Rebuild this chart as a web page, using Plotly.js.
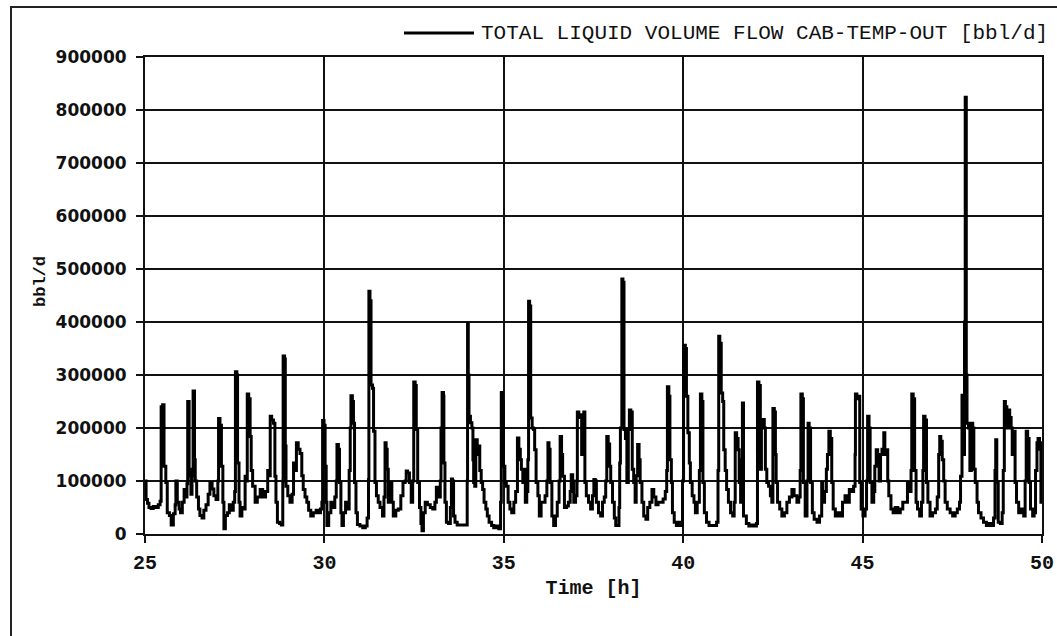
<!DOCTYPE html>
<html>
<head>
<meta charset="utf-8">
<script src="https://cdn.plot.ly/plotly-3.0.1.min.js"></script>
<style>
html,body{margin:0;padding:0;background:#fff;}
#chart{width:1057px;height:636px;}
</style>
</head>
<body>
<div id="chart"></div>
<script>
// Time [h]
const timeH = [
25.00,25.03,25.07,25.11,25.17,25.23,25.30,25.37,25.42,25.45,25.49,25.53,25.58,25.62,25.68,25.73,25.79,25.84,25.86,25.90,
25.95,25.99,26.04,26.09,26.13,26.17,26.19,26.23,26.25,26.28,26.31,26.34,26.38,26.40,26.44,26.49,26.53,26.59,26.64,26.70,
26.76,26.81,26.87,26.92,26.98,27.03,27.05,27.09,27.13,27.17,27.20,27.24,27.30,27.35,27.41,27.46,27.50,27.52,27.56,27.58,
27.62,27.65,27.70,27.74,27.79,27.84,27.85,27.89,27.93,27.96,28.00,28.07,28.13,28.21,28.28,28.36,28.42,28.47,28.49,28.53,
28.58,28.62,28.65,28.69,28.75,28.80,28.84,28.85,28.89,28.91,28.93,28.98,29.04,29.10,29.14,29.18,29.22,29.27,29.32,29.37,
29.41,29.46,29.51,29.56,29.62,29.69,29.77,29.83,29.89,29.93,29.95,29.99,30.02,30.05,30.07,30.12,30.18,30.23,30.29,30.33,
30.35,30.39,30.42,30.46,30.49,30.53,30.59,30.64,30.69,30.72,30.74,30.78,30.81,30.84,30.88,30.92,30.99,31.07,31.14,31.19,
31.23,31.24,31.27,31.30,31.34,31.37,31.41,31.45,31.50,31.55,31.62,31.66,31.69,31.72,31.75,31.78,31.83,31.88,31.92,31.99,
32.06,32.13,32.19,32.25,32.28,32.32,32.37,32.42,32.46,32.49,32.53,32.56,32.60,32.65,32.69,32.72,32.76,32.81,32.87,32.95,
33.02,33.08,33.12,33.18,33.23,33.25,33.28,33.32,
33.33,33.36,33.40,33.46,33.51,33.54,33.57,33.60,33.64,33.70,33.77,33.87,33.96,33.98,33.99,34.01,34.03,34.07,34.11,34.14,
34.16,34.19,34.22,34.26,34.29,34.33,34.37,34.41,34.45,34.50,34.54,34.59,34.66,34.72,34.80,34.86,34.91,34.93,34.96,34.99,
35.03,35.07,35.12,35.17,35.22,35.28,35.33,35.38,35.42,35.46,35.49,35.53,35.57,35.60,35.64,35.67,35.69,35.72,35.75,35.79,
35.83,35.86,35.90,35.95,35.99,36.04,36.10,36.15,36.20,36.23,36.26,36.29,36.34,36.39,36.44,36.49,36.54,36.57,36.61,36.64,
36.69,36.75,36.80,36.85,36.88,36.92,36.95,37.00,37.04,37.05,37.09,37.13,37.17,37.20,37.23,37.26,37.30,37.36,37.42,37.47,
37.51,37.55,37.58,37.64,37.70,37.75,37.80,37.84,37.87,37.91,37.95,37.98,38.03,38.08,38.12,38.17,38.21,38.23,38.25,38.29,
38.32,38.35,38.39,38.43,38.47,38.50,38.54,38.58,38.62,38.66,38.69,38.73,38.77,38.80,38.85,38.90,38.96,39.01,39.07,39.13,
39.18,39.24,39.30,39.37,39.44,39.50,39.54,39.56,39.60,39.63,39.67,39.70,39.75,39.81,39.89,39.94,39.98,40.01,40.06,40.09,
40.13,40.17,40.20,40.25,40.30,40.34,40.39,40.45,40.48,40.52,40.55,40.59,40.65,40.72,40.80,40.87,40.93,40.97,40.99,41.02,
41.06,41.10,41.13,41.17,41.21,41.26,41.32,41.38,41.42,41.45,41.49,41.53,41.56,41.60,41.63,41.65,41.68,
41.76,41.83,41.90,41.98,42.04,42.07,42.11,42.15,42.18,42.22,42.26,42.29,42.33,42.38,42.43,42.47,42.50,42.54,42.57,42.59,
42.63,42.69,42.75,42.82,42.89,42.96,43.03,43.09,43.17,43.22,43.26,43.28,43.32,43.35,43.40,43.45,43.48,43.51,43.55,43.60,
43.65,43.73,43.80,43.86,43.89,43.94,43.99,44.02,44.06,44.10,44.14,44.18,44.24,44.30,44.38,44.44,44.51,44.56,44.63,44.69,
44.75,44.79,44.80,44.84,44.88,44.92,44.96,45.01,45.07,45.11,45.14,45.18,45.21,45.26,45.31,45.34,45.38,45.42,45.46,45.50,
45.54,45.59,45.62,45.66,45.70,45.73,45.79,45.85,45.91,45.98,46.05,46.12,46.19,46.25,46.30,46.35,46.37,46.41,46.45,46.49,
46.53,46.59,46.64,46.68,46.70,46.74,46.78,46.82,46.88,46.95,47.03,47.08,47.12,47.15,47.18,47.22,47.26,47.30,47.36,47.44,
47.51,47.58,47.64,47.70,47.73,47.77,47.81,47.84,47.86,47.89,47.91,47.95,47.99,48.03,48.07,48.10,48.14,48.19,48.23,48.30,
48.37,48.45,48.52,48.60,48.65,48.69,48.71,48.74,48.78,48.84,48.89,48.92,48.95,48.98,49.02,49.06,49.10,49.14,49.17,49.21,
49.25,49.29,49.35,49.41,49.49,49.53,49.56,49.60,49.64,49.68,49.74,49.78,49.82,49.86,49.89,49.93,49.97,50.00
];
// Total liquid volume flow [bbl/d]
const flowBbl = [
100000,65000,58000,50000,48000,52000,50000,55000,62000,240000,244000,128000,97000,40000,35000,17000,38000,55000,100000,60000,
47000,40000,60000,84000,70000,95000,250000,110000,122000,75000,110000,270000,140000,100000,70000,47000,35000,30000,45000,55000,
75000,97000,85000,72000,65000,100000,218000,205000,128000,60000,10000,35000,40000,55000,45000,60000,80000,306000,300000,134000,
60000,34000,50000,47000,109000,100000,264000,255000,184000,120000,90000,60000,70000,84000,70000,80000,120000,110000,222000,215000,
209000,109000,60000,22000,20000,17000,100000,336000,330000,166000,90000,72000,60000,75000,134000,120000,172000,160000,152000,110000,
84000,70000,60000,45000,34000,40000,45000,40000,47000,60000,214000,205000,128000,60000,16000,40000,60000,50000,70000,100000,
169000,160000,97000,40000,16000,40000,60000,47000,120000,200000,261000,250000,209000,97000,40000,18000,15000,12000,15000,30000,
103000,458000,440000,281000,275000,194000,97000,72000,60000,50000,34000,70000,172000,160000,122000,60000,97000,60000,34000,45000,
47000,72000,97000,100000,119000,115000,97000,60000,100000,287000,280000,197000,97000,50000,20000,6000,40000,60000,55000,50000,
47000,60000,88000,70000,100000,200000,267000,260000,
134000,60000,22000,20000,50000,104000,100000,34000,22000,17000,17000,17000,17000,100000,397000,300000,222000,210000,200000,140000,
97000,90000,178000,150000,166000,120000,97000,84000,60000,47000,34000,22000,16000,12000,15000,10000,60000,267000,250000,128000,
97000,90000,60000,47000,40000,60000,80000,181000,160000,140000,122000,97000,122000,60000,80000,140000,439000,430000,219000,200000,
197000,159000,97000,72000,34000,60000,60000,72000,100000,172000,160000,97000,34000,16000,34000,60000,100000,184000,150000,109000,
50000,53000,60000,80000,112000,100000,60000,72000,100000,230000,220000,225000,150000,200000,230000,97000,72000,60000,47000,72000,
103000,100000,60000,40000,34000,60000,70000,100000,184000,170000,128000,97000,60000,30000,16000,16000,50000,134000,200000,481000,
475000,197000,180000,97000,197000,234000,230000,122000,97000,60000,110000,169000,140000,97000,60000,34000,28000,50000,60000,84000,
70000,55000,60000,60000,66000,80000,120000,278000,260000,140000,97000,40000,22000,16000,22000,16000,100000,356000,350000,260000,
191000,134000,97000,72000,60000,40000,60000,120000,264000,250000,97000,40000,22000,16000,16000,16000,22000,120000,373000,360000,
266000,250000,159000,120000,84000,60000,40000,34000,60000,191000,180000,159000,97000,60000,140000,247000,34000,
20000,15000,17000,15000,20000,287000,280000,122000,200000,216000,200000,122000,97000,90000,72000,60000,237000,230000,150000,97000,
60000,47000,34000,40000,60000,70000,84000,72000,60000,70000,120000,264000,255000,97000,34000,100000,209000,200000,97000,40000,
28000,22000,34000,97000,60000,80000,122000,150000,194000,180000,97000,47000,34000,40000,34000,60000,72000,60000,84000,80000,
90000,150000,264000,255000,260000,97000,47000,34000,47000,100000,222000,200000,97000,60000,80000,128000,159000,140000,100000,150000,
160000,191000,150000,159000,100000,72000,47000,40000,50000,40000,47000,60000,60000,97000,80000,120000,264000,255000,120000,60000,
47000,34000,60000,120000,222000,215000,97000,60000,34000,40000,47000,70000,150000,184000,175000,140000,100000,60000,47000,40000,
34000,40000,47000,60000,109000,262000,150000,400000,824000,300000,209000,200000,120000,209000,200000,122000,97000,60000,40000,30000,
22000,16000,20000,16000,30000,120000,178000,97000,22000,20000,40000,120000,250000,240000,200000,234000,220000,200000,150000,194000,
97000,60000,40000,47000,34000,100000,194000,180000,97000,47000,34000,40000,120000,172000,180000,160000,60000,175000
];
const seriesName = "TOTAL LIQUID VOLUME FLOW CAB-TEMP-OUT [bbl/d]";
const xTitle = "Time [h]";
const yTitle = "bbl/d";

const L = 145, R = 15, T = 57, B = 102;
const W = 1057, H = 636;
const pw = W - L - R, ph = H - T - B;
const px = v => (v - L) / pw;          // pixel -> paper x
const py = v => (H - B - v) / ph;      // pixel -> paper y

const monoFont = "'Liberation Mono', 'Courier New', monospace";

const trace = {
  x: timeH, y: flowBbl, type: 'scatter', mode: 'lines',
  line: {color: '#000', width: 3, shape: 'hv'},
  name: seriesName, showlegend: false, hoverinfo: 'x+y'
};

const layout = {
  width: W, height: H,
  margin: {l: L, r: R, t: T, b: B},
  paper_bgcolor: '#fff', plot_bgcolor: '#fff',
  showlegend: false,
  xaxis: {
    range: [25, 50], dtick: 5, tick0: 25,
    showgrid: true, gridcolor: '#111', gridwidth: 2,
    showline: true, linecolor: '#111', linewidth: 2, mirror: true,
    ticks: 'outside', ticklen: 7, tickwidth: 2, tickcolor: '#111',
    tickfont: {family: monoFont, size: 20, color: '#111', weight: 'bold'},
    ticklabelstandoff: 2,
    zeroline: false,
    title: {text: xTitle, font: {family: monoFont, size: 20, color: '#111', weight: 'bold'}, standoff: 6}
  },
  yaxis: {
    range: [0, 900000], dtick: 100000, tick0: 0,
    showgrid: true, gridcolor: '#111', gridwidth: 2,
    showline: true, linecolor: '#111', linewidth: 2, mirror: true,
    ticks: 'outside', ticklen: 7, tickwidth: 2, tickcolor: '#111',
    tickformat: 'd',
    tickfont: {family: "'DejaVu Sans', Verdana, sans-serif", size: 17, color: '#111', weight: 'bold'},
    ticklabelstandoff: 6,
    zeroline: false
  },
  shapes: [
    {type: 'rect', xref: 'paper', yref: 'paper', x0: px(11), x1: px(1070), y0: py(650), y1: py(7),
     line: {color: '#222', width: 2}, fillcolor: 'rgba(0,0,0,0)', layer: 'above'},
    {type: 'line', xref: 'paper', yref: 'paper', x0: px(404), x1: px(474), y0: py(33), y1: py(33),
     line: {color: '#000', width: 3}}
  ],
  annotations: [
    {xref: 'paper', yref: 'paper', x: px(479), y: py(33), xanchor: 'left', yanchor: 'middle',
     text: seriesName, showarrow: false,
     font: {family: monoFont, size: 21, color: '#111'}},
    {xref: 'paper', yref: 'paper', x: px(40), y: py(282), xanchor: 'center', yanchor: 'middle',
     text: yTitle, textangle: -90, showarrow: false,
     font: {family: monoFont, size: 17, color: '#111', weight: 'bold'}}
  ]
};

Plotly.newPlot('chart', [trace], layout, {displayModeBar: false, staticPlot: true});
</script>
</body>
</html>
